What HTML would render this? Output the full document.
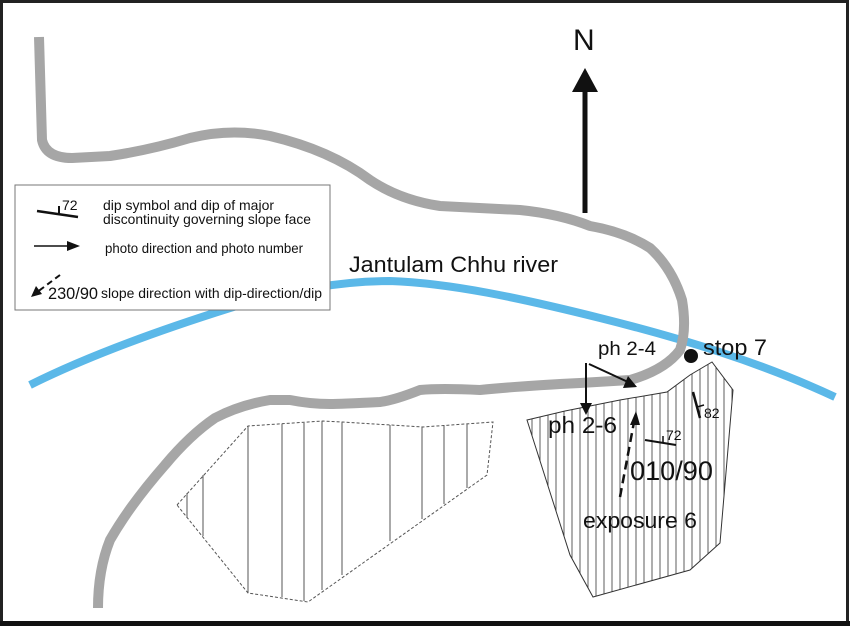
<!DOCTYPE html>
<html><head><meta charset="utf-8"><style>
html,body{margin:0;padding:0;background:#fff}
svg{display:block}
text{font-family:"Liberation Sans",Arial,sans-serif;fill:#111}
</style></head><body>
<svg width="850" height="626" viewBox="0 0 850 626" xmlns="http://www.w3.org/2000/svg">
<rect x="0" y="0" width="850" height="626" fill="#fff"/>
<rect x="1.5" y="1.5" width="846" height="621" fill="none" stroke="#222" stroke-width="3"/>
<rect x="0" y="621" width="850" height="5" fill="#111"/>

<path d="M30,385 C90,355 160,330 230,308 C290,290 340,281 390,281 C450,283 520,298 600,318 C680,338 760,362 835,397" fill="none" stroke="#5bb8e8" stroke-width="8"/>

<path d="M39,37 L42,140 Q46,158 72,158 L110,156 Q150,150 190,138 Q230,128 270,136 Q330,150 370,180 Q400,200 440,206 L520,210 Q560,214 590,226 Q625,232 650,248 Q672,268 682,300 Q687,330 680,350 Q665,370 630,380 L580,383 Q520,386 480,390 Q440,388 420,390 Q395,400 380,402 Q340,404 330,404 Q310,404 290,400 L270,400 Q240,405 215,418 Q190,435 165,465 Q130,505 110,540 Q98,570 98,608" fill="none" stroke="#a6a6a6" stroke-width="10" stroke-linejoin="round"/>

<g stroke="#555" stroke-width="1">
<path d="M177,505 L248,426 L323,421 L342,422 L423,427 L493,422 L487,475 L308,602 L248,593 Z" fill="none" stroke-dasharray="3,2"/>
<line x1="187" y1="493" x2="187" y2="518"/>
<line x1="203" y1="475" x2="203" y2="536"/>
<line x1="248" y1="426" x2="248" y2="593"/>
<line x1="282" y1="424" x2="282" y2="597"/>
<line x1="304" y1="423" x2="304" y2="601"/>
<line x1="322" y1="421" x2="322" y2="590"/>
<line x1="342" y1="422" x2="342" y2="575"/>
<line x1="390" y1="425" x2="390" y2="541"/>
<line x1="422" y1="427" x2="422" y2="519"/>
<line x1="444" y1="425" x2="444" y2="504"/>
<line x1="467" y1="424" x2="467" y2="488"/>
</g>

<defs>
<clipPath id="cp"><path d="M527,420 L565,411 L620,400 L667,392 L690,375 L712,362 L733,390 L720,543 L690,570 L593,597 L570,555 Z"/></clipPath>
<pattern id="hp" width="8" height="10" patternUnits="userSpaceOnUse"><line x1="4" y1="0" x2="4" y2="10" stroke="#333" stroke-width="0.8"/></pattern>
</defs>
<rect x="520" y="355" width="220" height="250" fill="url(#hp)" clip-path="url(#cp)"/>
<path d="M527,420 L565,411 L620,400 L667,392 L690,375 L712,362 L733,390 L720,543 L690,570 L593,597 L570,555 Z" fill="none" stroke="#333" stroke-width="1"/>

<rect x="15" y="185" width="315" height="125" fill="#fff" stroke="#777" stroke-width="1"/>
<line x1="37" y1="211" x2="78" y2="217" stroke="#111" stroke-width="2.5"/>
<line x1="59" y1="206" x2="59" y2="214" stroke="#111" stroke-width="2"/>
<text x="62" y="210" font-size="14">72</text>
<text x="103" y="210" font-size="14" textLength="171" lengthAdjust="spacingAndGlyphs">dip symbol and dip of major</text>
<text x="103" y="224" font-size="14" textLength="208" lengthAdjust="spacingAndGlyphs">discontinuity governing slope face</text>
<line x1="34" y1="246" x2="68" y2="246" stroke="#111" stroke-width="1.5"/>
<polygon points="80,246 67,241 67,251" fill="#111"/>
<text x="105" y="253" font-size="14" textLength="198" lengthAdjust="spacingAndGlyphs">photo direction and photo number</text>
<line x1="60" y1="275" x2="36" y2="293" stroke="#111" stroke-width="2" stroke-dasharray="6,4"/>
<polygon points="31,297 36,286 42,294" fill="#111"/>
<text x="48" y="299" font-size="16.5" textLength="50" lengthAdjust="spacingAndGlyphs">230/90</text>
<text x="101" y="298" font-size="14" textLength="221" lengthAdjust="spacingAndGlyphs">slope direction with dip-direction/dip</text>

<text x="573" y="50" font-size="30">N</text>
<line x1="585" y1="88" x2="585" y2="213" stroke="#111" stroke-width="5"/>
<polygon points="585,68 572,92 598,92" fill="#111"/>

<text x="349" y="272" font-size="22" textLength="209" lengthAdjust="spacingAndGlyphs">Jantulam Chhu river</text>

<circle cx="691" cy="356" r="7" fill="#111"/>
<text x="703" y="355" font-size="22" textLength="64" lengthAdjust="spacingAndGlyphs">stop 7</text>
<text x="598" y="355" font-size="19" textLength="58" lengthAdjust="spacingAndGlyphs">ph 2-4</text>
<text x="548" y="433" font-size="23" textLength="69" lengthAdjust="spacingAndGlyphs">ph 2-6</text>
<text x="630" y="480" font-size="27" textLength="83" lengthAdjust="spacingAndGlyphs">010/90</text>
<text x="583" y="528" font-size="22" textLength="114" lengthAdjust="spacingAndGlyphs">exposure 6</text>

<line x1="589" y1="364" x2="628" y2="382" stroke="#111" stroke-width="2"/>
<polygon points="637,387 623,388 628,376" fill="#111"/>
<line x1="586" y1="363" x2="586" y2="405" stroke="#111" stroke-width="2"/>
<polygon points="586,415 580,403 592,403" fill="#111"/>
<line x1="620" y1="497" x2="634" y2="422" stroke="#111" stroke-width="2.5" stroke-dasharray="9,5"/>
<polygon points="636,411 630,425 640,425" fill="#111"/>

<line x1="645" y1="440" x2="676" y2="445" stroke="#111" stroke-width="2"/>
<line x1="663" y1="436" x2="663" y2="443" stroke="#111" stroke-width="1.5"/>
<text x="666" y="440" font-size="14">72</text>
<line x1="693" y1="392" x2="700" y2="418" stroke="#111" stroke-width="2.5"/>
<line x1="697" y1="407" x2="704" y2="405" stroke="#111" stroke-width="1.5"/>
<text x="704" y="418" font-size="14">82</text>
</svg>
</body></html>
